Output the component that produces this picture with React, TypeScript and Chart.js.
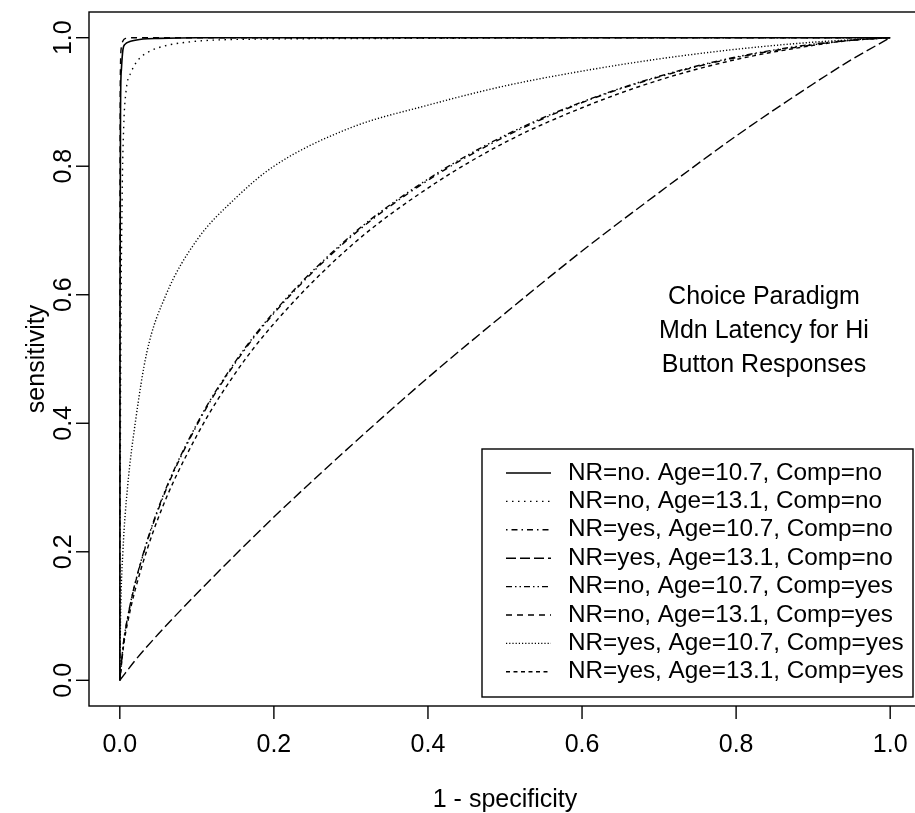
import React, { useEffect, useRef } from "react";
import { Chart, registerables } from "chart.js";

Chart.register(...registerables);

const FONT = '"Liberation Sans", Arial, Helvetica, sans-serif';

// Axis ticks
const xTicks = [0, 0.2, 0.4, 0.6, 0.8, 1.0];
const xTickLabels = ["0.0", "0.2", "0.4", "0.6", "0.8", "1.0"];
const yTicks = [0, 0.2, 0.4, 0.6, 0.8, 1.0];
const yTickLabels = ["0.0", "0.2", "0.4", "0.6", "0.8", "1.0"];

const xTitle = "1 - specificity";
const yTitle = "sensitivity";
const noteLines = ["Choice Paradigm", "Mdn Latency for Hi", "Button Responses"];

const legendLabels = [
  "NR=no. Age=10.7, Comp=no",
  "NR=no, Age=13.1, Comp=no",
  "NR=yes, Age=10.7, Comp=no",
  "NR=yes, Age=13.1, Comp=no",
  "NR=no, Age=10.7, Comp=yes",
  "NR=no, Age=13.1, Comp=yes",
  "NR=yes, Age=10.7, Comp=yes",
  "NR=yes, Age=13.1, Comp=yes",
];

// Series 1: NR=no, Age=10.7, Comp=no (solid)
const x1 = [0, 0.0003, 0.001, 0.002, 0.004, 0.007, 0.013, 0.02, 0.03, 0.05, 0.1, 0.2, 1];
const y1 = [0, 0.6, 0.9, 0.95, 0.981, 0.99, 0.994, 0.996, 0.998, 0.999, 1, 1, 1];

// Series 2: NR=no, Age=13.1, Comp=no (sparse dots)
const x2 = [0, 0.001, 0.003, 0.005, 0.008, 0.015, 0.025, 0.039, 0.061, 0.087, 0.117, 0.2, 0.4, 0.7, 1];
const y2 = [0, 0.45, 0.75, 0.86, 0.916, 0.947, 0.967, 0.979, 0.988, 0.993, 0.996, 0.998, 0.999, 1, 1];

// Bundle grid
const xBundle = [0, 0.005, 0.01, 0.02, 0.05, 0.1, 0.15, 0.2, 0.3, 0.4, 0.5, 0.6, 0.7, 0.8, 0.9, 0.95, 1];
// Series 3: NR=yes, Age=10.7, Comp=no (dot-dash)
const y3 = [0, 0.06, 0.096, 0.151, 0.266, 0.397, 0.494, 0.571, 0.69, 0.778, 0.846, 0.899, 0.939, 0.969, 0.989, 0.996, 1];
// Series 5: NR=no, Age=10.7, Comp=yes (dash-dot-dot)
const y5 = [0, 0.061, 0.097, 0.152, 0.268, 0.399, 0.496, 0.573, 0.692, 0.78, 0.848, 0.9, 0.94, 0.97, 0.99, 0.996, 1];
// Series 8: NR=yes, Age=13.1, Comp=yes (short dash)
const y8 = [0, 0.055, 0.089, 0.141, 0.253, 0.381, 0.478, 0.555, 0.676, 0.766, 0.837, 0.891, 0.934, 0.966, 0.988, 0.996, 1];

// Series 4: NR=yes, Age=13.1, Comp=no (long dash, near diagonal)
const x4 = [0, 0.02, 0.05, 0.1, 0.2, 0.3, 0.4, 0.5, 0.6, 0.7, 0.8, 0.9, 0.95, 1];
const y4 = [0, 0.031, 0.072, 0.135, 0.254, 0.365, 0.471, 0.571, 0.668, 0.759, 0.847, 0.928, 0.966, 1];

// Series 6: NR=no, Age=13.1, Comp=yes (dashed, steepest)
const x6 = [0, 0.0002, 0.0008, 0.002, 0.004, 0.008, 0.02, 1];
const y6 = [0, 0.7, 0.95, 0.985, 0.995, 0.999, 1, 1];

// Series 7: NR=yes, Age=10.7, Comp=yes (dense dots)
const x7 = [0, 0.001, 0.004, 0.01, 0.02, 0.035, 0.06, 0.1, 0.15, 0.2, 0.3, 0.4, 0.5, 0.6, 0.7, 0.8, 0.9, 1];
const y7 = [0, 0.1, 0.2, 0.3, 0.4, 0.51, 0.6, 0.685, 0.75, 0.8, 0.86, 0.895, 0.925, 0.948, 0.967, 0.982, 0.993, 1];

const seriesX = [x1, x2, xBundle, x4, xBundle, x6, x7, xBundle];
const seriesY = [y1, y2, y3, y4, y5, y6, y7, y8];

const dashes: number[][] = [
  [],
  [1.5, 4.5],
  [1.5, 4, 6, 4],
  [10, 4],
  [6, 3, 1.5, 3, 1.5, 3],
  [6, 5],
  [1.2, 2],
  [4, 3.5],
];

const rPlugin = {
  id: "rStyle",
  afterDraw(chart: any) {
    const { ctx, chartArea: a, scales } = chart;
    const xs = scales.x;
    const ys = scales.y;
    ctx.save();
    ctx.strokeStyle = "#000";
    ctx.fillStyle = "#000";
    ctx.lineWidth = 1.4;
    ctx.setLineDash([]);
    ctx.strokeRect(a.left, a.top, a.right - a.left, a.bottom - a.top);

    ctx.font = `25px ${FONT}`;
    ctx.textAlign = "center";
    ctx.textBaseline = "middle";
    xTicks.forEach((t, i) => {
      const px = xs.getPixelForValue(t);
      ctx.beginPath();
      ctx.moveTo(px, a.bottom);
      ctx.lineTo(px, a.bottom + 13);
      ctx.stroke();
      ctx.fillText(xTickLabels[i], px, 745);
    });
    yTicks.forEach((t, i) => {
      const py = ys.getPixelForValue(t);
      ctx.beginPath();
      ctx.moveTo(a.left - 13, py);
      ctx.lineTo(a.left, py);
      ctx.stroke();
      ctx.save();
      ctx.translate(64, py);
      ctx.rotate(-Math.PI / 2);
      ctx.fillText(yTickLabels[i], 0, 0);
      ctx.restore();
    });
    ctx.fillText(xTitle, (a.left + a.right) / 2, 800);
    ctx.save();
    ctx.translate(37, (a.top + a.bottom) / 2);
    ctx.rotate(-Math.PI / 2);
    ctx.fillText(yTitle, 0, 0);
    ctx.restore();

    noteLines.forEach((s, i) => ctx.fillText(s, 764, 297 + i * 34));

    // Legend box
    const lx = 482, ly = 449, lw = 431, lh = 248;
    ctx.fillStyle = "#fff";
    ctx.fillRect(lx, ly, lw, lh);
    ctx.fillStyle = "#000";
    ctx.strokeRect(lx, ly, lw, lh);
    ctx.font = `24.3px ${FONT}`;
    ctx.textAlign = "left";
    legendLabels.forEach((s, i) => {
      const ry = 473 + i * 28.4;
      ctx.save();
      ctx.lineWidth = 1.4;
      ctx.setLineDash(dashes[i]);
      ctx.beginPath();
      ctx.moveTo(506, ry);
      ctx.lineTo(551, ry);
      ctx.stroke();
      ctx.restore();
      ctx.fillText(s, 568, ry);
    });
    ctx.restore();
  },
};

export default function App() {
  const ref = useRef<HTMLCanvasElement | null>(null);
  useEffect(() => {
    if (!ref.current) return;
    const datasets = legendLabels.map((label, i) => ({
      label,
      data: seriesX[i].map((x, j) => ({ x, y: seriesY[i][j] })),
      borderColor: "#000",
      backgroundColor: "#000",
      borderWidth: i === 0 ? 1.6 : 1.4,
      borderDash: dashes[i],
      pointRadius: 0,
      fill: false,
      cubicInterpolationMode: "monotone" as const,
    }));
    const chart = new Chart(ref.current, {
      type: "line",
      data: { datasets },
      options: {
        responsive: false,
        animation: false,
        devicePixelRatio: 1,
        layout: { padding: { left: 89, top: 12, right: 9, bottom: 107 } },
        plugins: { legend: { display: false }, tooltip: { enabled: false } },
        scales: {
          x: { type: "linear", min: -0.04, max: 1.04, display: false },
          y: { type: "linear", min: -0.04, max: 1.04, display: false },
        },
      },
      plugins: [rPlugin],
    });
    return () => chart.destroy();
  }, []);
  return (
    <div style={{ position: "fixed", left: 0, top: 0, width: 915, height: 813, overflow: "hidden", background: "#fff" }}>
      <canvas ref={ref} width={930} height={813} style={{ display: "block" }} />
    </div>
  );
}
